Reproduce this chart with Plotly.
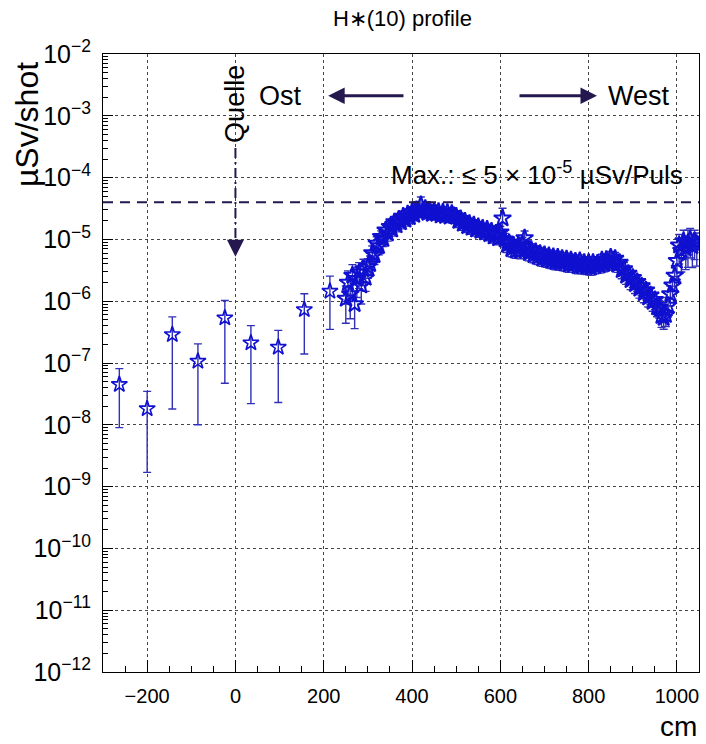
import plotly.graph_objects as go

# ---------------- data ----------------
# sparse measurement points (cm, uSv/shot, symmetric error)
sparse_x = [-263, -200, -143, -85, -24, 35, 97, 156, 214]
sparse_y = [4.5e-8, 1.82e-8, 2.88e-7, 1.07e-7, 5.37e-7, 2.12e-7, 1.80e-7, 7.3e-7, 1.45e-6]
sparse_err = [3.6e-8, 1.65e-8, 2.7e-7, 9.7e-8, 4.9e-7, 1.9e-7, 1.57e-7, 5.9e-7, 1.1e-6]

# dense profile (cm)
dense_x = [
    250, 255, 260, 265, 270, 275, 280, 285, 290, 295,
    300, 305, 310, 315, 320, 325, 330, 335, 340, 345,
    350, 355, 360, 365, 370, 375, 380, 385, 390, 395,
    400, 405, 410, 415, 420, 425, 430, 435, 440, 445,
    450, 455, 460, 465, 470, 475, 480, 485, 490, 495,
    500, 505, 510, 515, 520, 525, 530, 535, 540, 545,
    550, 555, 560, 565, 570, 575, 580, 585, 590, 595,
    600, 605, 610, 615, 620, 625, 630, 635, 640, 645,
    650, 655, 660, 665, 670, 675, 680, 685, 690, 695,
    700, 705, 710, 715, 720, 725, 730, 735, 740, 745,
    750, 755, 760, 765, 770, 775, 780, 785, 790, 795,
    800, 805, 810, 815, 820, 825, 830, 835, 840, 845,
    850, 855, 860, 865, 870, 875, 880, 885, 890, 895,
    900, 905, 910, 915, 920, 925, 930, 935, 940, 945,
    950, 955, 960, 965, 970, 975, 980, 985, 990, 995,
    1000, 1005, 1010, 1015, 1020, 1025, 1030, 1035, 1040, 1045,
]
dense_y = [
    1.1e-6, 2.0e-6, 1.3e-6, 2.6e-6, 9.0e-7, 2.3e-6, 2.9e-6, 1.8e-6, 3.3e-6, 2.4e-6,
    3.6e-6, 4.0e-6, 6.0e-6, 5.6e-6, 8.6e-6, 7.8e-6, 1.1e-5, 1.02e-5, 1.4e-5, 1.25e-5,
    1.6e-5, 1.45e-5, 1.9e-5, 1.7e-5, 2.1e-5, 1.9e-5, 2.35e-5, 2.1e-5, 2.55e-5, 2.3e-5,
    2.75e-5, 2.5e-5, 3.0e-5, 2.8e-5, 3.6e-5, 2.9e-5, 3.15e-5, 2.7e-5, 2.95e-5, 2.6e-5,
    2.85e-5, 2.6e-5, 2.8e-5, 2.45e-5, 2.75e-5, 2.4e-5, 2.7e-5, 2.35e-5, 2.6e-5, 2.4e-5,
    2.35e-5, 2.0e-5, 2.15e-5, 1.8e-5, 1.95e-5, 1.65e-5, 1.8e-5, 1.55e-5, 1.7e-5, 1.45e-5,
    1.6e-5, 1.38e-5, 1.5e-5, 1.3e-5, 1.45e-5, 1.22e-5, 1.35e-5, 1.12e-5, 1.25e-5, 1.05e-5,
    1.3e-5, 2.2e-5, 1.0e-5, 8.2e-6, 8.8e-6, 7.0e-6, 8.0e-6, 6.6e-6, 7.8e-6, 6.5e-6,
    8.4e-6, 1.05e-5, 7.2e-6, 6.0e-6, 6.8e-6, 5.6e-6, 6.3e-6, 5.2e-6, 5.9e-6, 4.9e-6,
    5.6e-6, 4.7e-6, 5.4e-6, 4.5e-6, 5.2e-6, 4.3e-6, 5.1e-6, 4.2e-6, 4.9e-6, 4.1e-6,
    4.8e-6, 3.9e-6, 4.6e-6, 3.9e-6, 4.4e-6, 3.7e-6, 4.5e-6, 3.7e-6, 4.2e-6, 3.6e-6,
    4.2e-6, 3.5e-6, 4.2e-6, 3.7e-6, 4.1e-6, 3.8e-6, 4.6e-6, 4.0e-6, 4.7e-6, 4.2e-6,
    5.1e-6, 4.3e-6, 4.9e-6, 3.9e-6, 4.2e-6, 3.2e-6, 3.3e-6, 2.6e-6, 2.8e-6, 2.2e-6,
    2.4e-6, 1.9e-6, 2.05e-6, 1.6e-6, 1.75e-6, 1.35e-6, 1.5e-6, 1.15e-6, 1.25e-6, 9.8e-7,
    1.05e-6, 8.0e-7, 7.8e-7, 5.8e-7, 5.4e-7, 6.0e-7, 8.5e-7, 1.3e-6, 1.8e-6, 2.6e-6,
    4.5e-6, 8.0e-6, 6.6e-6, 9.4e-6, 7.2e-6, 8.8e-6, 1.0e-5, 7.8e-6, 9.4e-6, 8.2e-6,
]
# relative errors read per point
dense_relerr = [
    0.6, 0.55, 0.6, 0.5, 0.6, 0.5, 0.45, 0.5, 0.45, 0.4,
    0.35, 0.35, 0.3, 0.3, 0.28, 0.28, 0.25, 0.25, 0.25, 0.25,
    0.22, 0.22, 0.22, 0.22, 0.22, 0.22, 0.22, 0.22, 0.22, 0.22,
    0.2, 0.2, 0.2, 0.2, 0.35, 0.2, 0.2, 0.2, 0.2, 0.2,
    0.2, 0.2, 0.2, 0.2, 0.2, 0.2, 0.2, 0.2, 0.2, 0.25,
    0.22, 0.22, 0.22, 0.22, 0.22, 0.22, 0.22, 0.22, 0.22, 0.22,
    0.22, 0.22, 0.22, 0.22, 0.22, 0.22, 0.22, 0.22, 0.22, 0.22,
    0.25, 0.45, 0.25, 0.25, 0.25, 0.25, 0.25, 0.25, 0.25, 0.25,
    0.28, 0.3, 0.25, 0.25, 0.25, 0.25, 0.25, 0.25, 0.25, 0.25,
    0.25, 0.25, 0.25, 0.25, 0.25, 0.25, 0.25, 0.25, 0.25, 0.25,
    0.25, 0.25, 0.25, 0.25, 0.25, 0.25, 0.25, 0.25, 0.25, 0.25,
    0.25, 0.25, 0.25, 0.25, 0.25, 0.25, 0.25, 0.25, 0.25, 0.25,
    0.25, 0.25, 0.25, 0.25, 0.25, 0.28, 0.28, 0.28, 0.3, 0.3,
    0.3, 0.3, 0.3, 0.3, 0.3, 0.3, 0.3, 0.3, 0.3, 0.3,
    0.3, 0.3, 0.32, 0.35, 0.35, 0.35, 0.35, 0.35, 0.4, 0.45,
    0.5, 0.5, 0.55, 0.5, 0.55, 0.6, 0.5, 0.55, 0.5, 0.55,
]
dense_err = [v * r for v, r in zip(dense_y, dense_relerr)]

max_level = 4e-5          # dashed "Max." line
x_ticks = [-200, 0, 200, 400, 600, 800, 1000]

# ---------------- style ----------------
FONT = "Liberation Sans, Arial, Helvetica, sans-serif"
MARK = "#1010d0"
ERRC = "#3030b8"
NAVY = "#24184f"

fig = go.Figure()

for xs, ys, es, msz, mlw in [(sparse_x, sparse_y, sparse_err, 12, 1.6),
                             (dense_x, dense_y, dense_err, 13, 2.0)]:
    fig.add_trace(go.Scatter(
        x=xs, y=ys, mode="markers",
        marker=dict(symbol="star-open", size=msz, color=MARK, line=dict(width=mlw, color=MARK)),
        error_y=dict(type="data", array=es, visible=True, color=ERRC, thickness=1.4, width=4),
        showlegend=False, hoverinfo="x+y",
    ))

# Max dashed line
fig.add_shape(type="line", xref="paper", x0=0, x1=1, yref="y", y0=max_level, y1=max_level,
              line=dict(color=NAVY, width=2, dash="10px,7px"))

# Quelle dash-dot line
fig.add_shape(type="line", xref="x", x0=0, x1=0, yref="y", y0=3.0e-4, y1=7.0e-6,
              line=dict(color=NAVY, width=2, dash="10px,4px,2px,4px"))

annots = [
    dict(x=0, y=-5.28, xref="x", yref="y", ax=0, ay=-5.05, axref="x", ayref="y",
         showarrow=True, arrowhead=2, arrowsize=1.7, arrowwidth=2, arrowcolor=NAVY, text=""),
    dict(x=210, y=-2.675, xref="x", yref="y", ax=384, ay=-2.675, axref="x", ayref="y",
         showarrow=True, arrowhead=2, arrowsize=1.1, arrowwidth=3, arrowcolor=NAVY, text=""),
    dict(x=819, y=-2.675, xref="x", yref="y", ax=640, ay=-2.675, axref="x", ayref="y",
         showarrow=True, arrowhead=2, arrowsize=1.1, arrowwidth=3, arrowcolor=NAVY, text=""),
    dict(x=101, y=-2.675, xref="x", yref="y", text="Ost", showarrow=False,
         font=dict(family=FONT, size=27, color="black")),
    dict(x=915, y=-2.675, xref="x", yref="y", text="West", showarrow=False,
         font=dict(family=FONT, size=27, color="black")),
    dict(x=0, y=-2.80, xref="x", yref="y", text="Quelle", textangle=-90, showarrow=False,
         font=dict(family=FONT, size=27, color="black")),
    dict(x=683, y=-3.937, xref="x", yref="y",
         text="Max.: ≤ 5 × 10<sup>-5</sup> µSv/Puls", showarrow=False,
         font=dict(family=FONT, size=26, color="black")),
    dict(x=1.0, y=-0.1165, xref="paper", yref="paper", xanchor="right", yanchor="bottom",
         text="cm", showarrow=False, font=dict(family=FONT, size=28, color="black")),
    dict(x=-0.1275, y=0.885, xref="paper", yref="paper", xanchor="center", yanchor="middle",
         text="µSv/shot", textangle=-90, showarrow=False,
         font=dict(family=FONT, size=32, color="black")),
]
for a in annots:
    fig.add_annotation(**a)

fig.update_layout(
    width=706, height=744,
    margin=dict(l=103, r=7, t=54, b=72),
    paper_bgcolor="white", plot_bgcolor="white",
    showlegend=False,
    title=dict(text="H∗(10) profile", x=0.57, xanchor="center", y=0.976, yanchor="middle",
               font=dict(family=FONT, size=22, color="black")),
    font=dict(family=FONT, color="black"),
)

fig.update_xaxes(
    range=[-300, 1050], tickmode="array", tickvals=x_ticks,
    ticktext=["\u2212200", "0", "200", "400", "600", "800", "1000"],
    ticks="inside", ticklen=12, tickcolor="black", tickwidth=1,
    minor=dict(dtick=50, tick0=0, ticks="inside", ticklen=6, tickcolor="black", showgrid=False),
    showgrid=True, gridcolor="#444444", griddash="dot", gridwidth=1,
    showline=True, linecolor="black", linewidth=1.2, mirror=True,
    zeroline=False, tickfont=dict(family=FONT, size=20, color="black"),
    ticklabelstandoff=6,
)
fig.update_yaxes(
    type="log", range=[-12, -2], dtick=1, exponentformat="power", showexponent="all",
    ticks="inside", ticklen=10, tickcolor="black", tickwidth=1,
    minor=dict(ticks="inside", ticklen=5, dtick="D1", tickcolor="black", showgrid=False),
    showgrid=True, gridcolor="#444444", griddash="dot", gridwidth=1,
    showline=True, linecolor="black", linewidth=1.2, mirror=True,
    zeroline=False, tickfont=dict(family=FONT, size=20, color="black"),
    ticklabelstandoff=7,
)

fig.write_html("out.html")
